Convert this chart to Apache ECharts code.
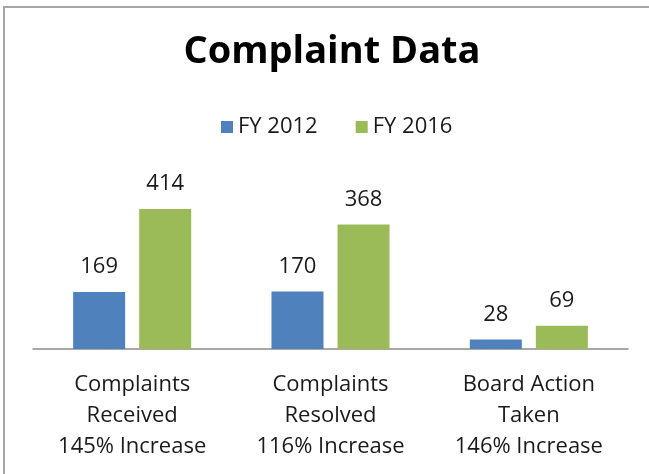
<!DOCTYPE html>
<html>
<head>
<meta charset="utf-8">
<script src="https://cdn.jsdelivr.net/npm/echarts@6/dist/echarts.min.js"></script>
<style>
html,body{margin:0;padding:0;background:#fff;}
#chart{width:649px;height:474px;}
</style>
</head>
<body>
<div id="chart"></div>
<script>
var categories = ["Complaints\nReceived\n145% Increase", "Complaints\nResolved\n116% Increase", "Board Action\nTaken\n146% Increase"];
var seriesNames = ["FY 2012", "FY 2016"];
var fy2012 = [169, 170, 28];
var fy2016 = [414, 368, 69];
var colors = ["#4F81BD", "#9BBB59"];
var FONT = "'Open Sans', sans-serif";

var chart = echarts.init(document.getElementById('chart'), null, {renderer: 'canvas'});
var labelStyle = {show: true, position: 'top', distance: 14, fontFamily: FONT, fontSize: 22, color: '#1a1a1a'};
chart.setOption({
  animation: false,
  backgroundColor: '#ffffff',
  title: {
    text: 'Complaint Data', left: 332, textAlign: 'center', top: 33, padding: 0,
    textStyle: {fontFamily: FONT, fontWeight: 'bold', fontSize: 38, color: '#000000'}
  },
  legend: {
    data: seriesNames, top: 116, left: 221, padding: 0,
    itemWidth: 12, itemHeight: 12, itemGap: 38, icon: 'rect',
    textStyle: {fontFamily: FONT, fontSize: 22, color: '#1a1a1a'}
  },
  grid: {left: 33, right: 21, top: 180, bottom: 125, containLabel: false},
  xAxis: {
    type: 'category', data: categories,
    axisLine: {lineStyle: {color: '#8c8c8c', width: 1.5}},
    axisTick: {show: false},
    axisLabel: {fontFamily: FONT, fontSize: 22, color: '#1a1a1a', lineHeight: 31, margin: 20, interval: 0}
  },
  yAxis: {type: 'value', min: 0, max: 500, show: false, splitLine: {show: false}},
  series: [
    {name: seriesNames[0], type: 'bar', data: fy2012, barWidth: 52, barGap: '27%', itemStyle: {color: colors[0]}, label: labelStyle},
    {name: seriesNames[1], type: 'bar', data: fy2016, barWidth: 52, itemStyle: {color: colors[1]}, label: labelStyle}
  ],
  graphic: [{
    type: 'rect', shape: {x: 4, y: 7, width: 700, height: 600},
    style: {fill: null, stroke: '#a6a6a6', lineWidth: 2}, silent: true
  }]
});
</script>
</body>
</html>
